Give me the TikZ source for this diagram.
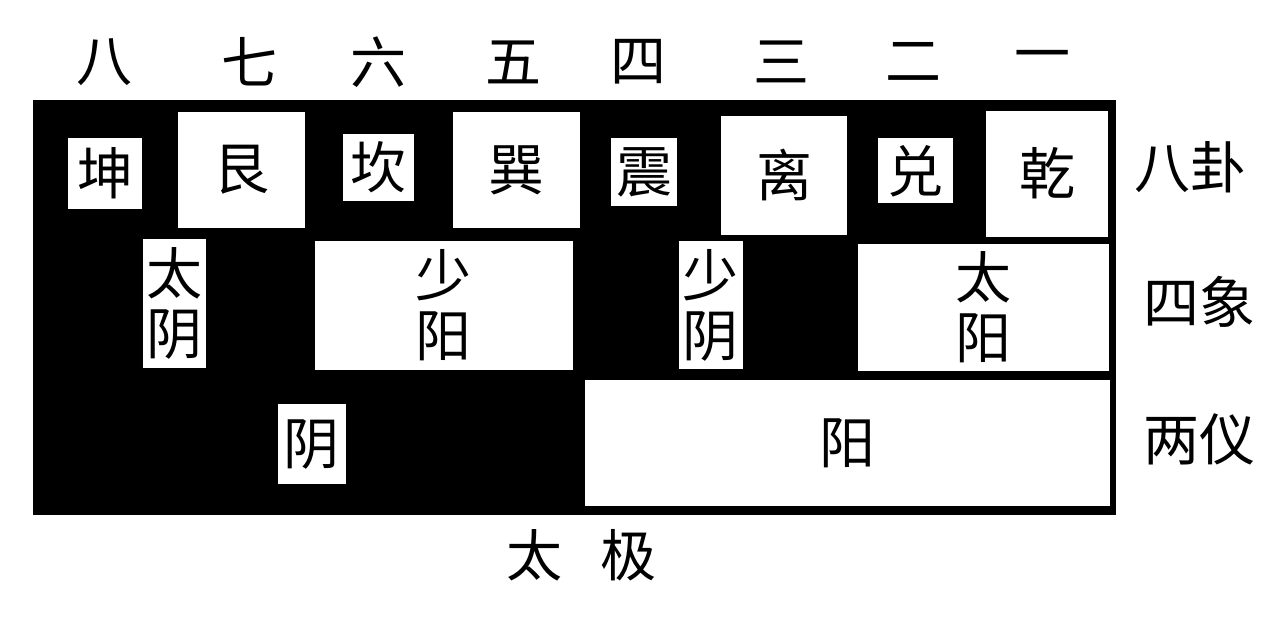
\documentclass[tikz,border=0pt]{standalone}
\usepackage{fontspec}
\newfontfamily\cjk{Noto Sans CJK SC}
\usetikzlibrary{positioning}

\begin{document}
\begin{tikzpicture}[x=1pt,y=-1pt,
    gua/.style={fill=white,inner sep=0pt,align=center,font=\cjk\fontsize{56}{60}\selectfont},
    label/.style={inner sep=0pt,font=\cjk\fontsize{56}{60}\selectfont}]
    \useasboundingbox (0,0) rectangle (1280,634);
    \fill[black] (32.5,100) rectangle (1116,515);
    % top row
    \node[label] (ba)   at (104,62)  {八};
    \node[label] (qi)   at (249,62)  {七};
    \node[label] (liu)  at (378,62)  {六};
    \node[label] (wu)   at (513,62)  {五};
    \node[label] (si)   at (638,62)  {四};
    \node[label] (san)  at (781,62)  {三};
    \node[label] (er)   at (913,62)  {二};
    \node[label] (yi)   at (1042,62) {一};
    % bagua
    \node[gua,minimum width=73.4,minimum height=71.6]  (kun)  at (105,173.5)   {坤};
    \node[gua,minimum width=126.7,minimum height=116.6] (gen) at (241.7,170)   {艮};
    \node[gua,minimum width=71,minimum height=66.4]    (kan)  at (378.8,167.5) {坎};
    \node[gua,minimum width=127,minimum height=116.6]  (xun)  at (516.2,170)   {巽};
    \node[gua,minimum width=66,minimum height=67.4]    (zhen) at (644,172)     {震};
    \node[gua,minimum width=126.6,minimum height=119.3] (li)  at (784,175.4)   {离};
    \node[gua,minimum width=75,minimum height=65]      (dui)  at (915.5,170.8) {兑};
    \node[gua,minimum width=122,minimum height=126]    (qian) at (1047,173.7)  {乾};
    % sixiang
    \node[gua,minimum width=62.4,minimum height=129]   (taiyin)   at (174.5,303.5) {太\\阴};
    \node[gua,minimum width=257.7,minimum height=128.8] (shaoyang) at (443.9,305.1) {少\\阳};
    \node[gua,minimum width=63.7,minimum height=128.6] (shaoyin)  at (710.8,305)   {少\\阴};
    \node[gua,minimum width=251.6,minimum height=127]  (taiyang)  at (983.5,307.5) {太\\阳};
    % liangyi
    \node[gua,minimum width=68.4,minimum height=80]    (yin)  at (311.8,444.3) {阴};
    \node[gua,minimum width=525,minimum height=125.7]  (yang) at (847.5,442.9) {阳};
    % side labels
    \node[label] (bagua)    at (1190,167) {八卦};
    \node[label] (sixiang)  at (1199,302) {四象};
    \node[label] (liangyi)  at (1199,439) {两仪};
    \node[label] (taiji)    at (581.5,555) {太\hspace{0.68em}极};
\end{tikzpicture}
\end{document}
